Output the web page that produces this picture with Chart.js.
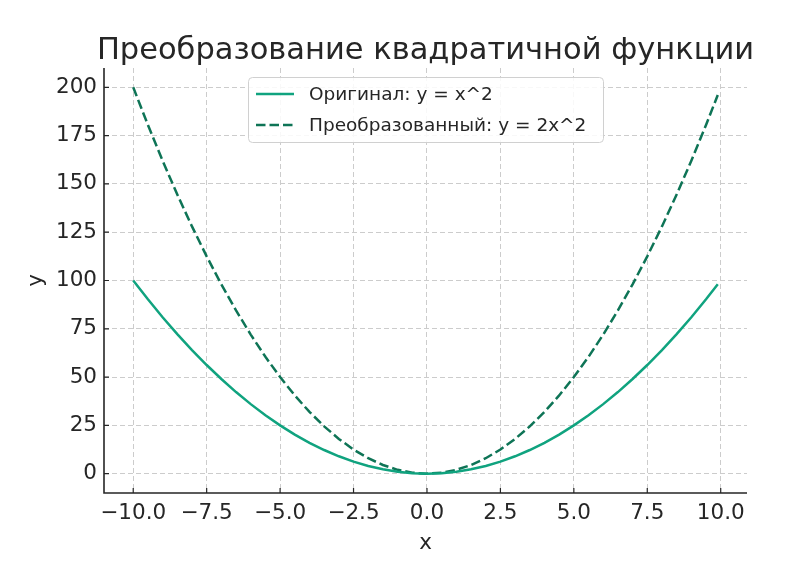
<!DOCTYPE html>
<html><head><meta charset="utf-8">
<script src="https://cdn.jsdelivr.net/npm/chart.js@4"></script>
<style>html,body{margin:0;padding:0;background:#fff}#wrap{width:803px;height:571px}</style>
</head><body><div id="wrap"><canvas id="c" width="803" height="571"></canvas></div>
<script>
const titleText = "Преобразование квадратичной функции";
const xLabel = "x";
const yLabel = "y";
const seriesLabels = ["Оригинал: y = x^2", "Преобразованный: y = 2x^2"];
const xs = [-10,-9.5,-9,-8.5,-8,-7.5,-7,-6.5,-6,-5.5,-5,-4.5,-4,-3.5,-3,-2.5,-2,-1.5,-1,-0.5,0,0.5,1,1.5,2,2.5,3,3.5,4,4.5,5,5.5,6,6.5,7,7.5,8,8.5,9,9.5,9.9];
const yOriginal = [100,90.25,81,72.25,64,56.25,49,42.25,36,30.25,25,20.25,16,12.25,9,6.25,4,2.25,1,0.25,0,0.25,1,2.25,4,6.25,9,12.25,16,20.25,25,30.25,36,42.25,49,56.25,64,72.25,81,90.25,98.01];
const yTransformed = [200,180.5,162,144.5,128,112.5,98,84.5,72,60.5,50,40.5,32,24.5,18,12.5,8,4.5,2,0.5,0,0.5,2,4.5,8,12.5,18,24.5,32,40.5,50,60.5,72,84.5,98,112.5,128,144.5,162,180.5,196.02];
const xTicks = [-10,-7.5,-5,-2.5,0,2.5,5,7.5,10];
const yTicks = [0,25,50,75,100,125,150,175,200];

const FONT = "'DejaVu Sans', sans-serif";
const TXT = "#262626";
const colors = ["#10a37f", "#0e7456"];

const pts = (ys) => xs.map((x, i) => ({x, y: ys[i]}));

const decor = {
  id: 'decor',
  afterDraw(chart) {
    const ctx = chart.ctx, a = chart.chartArea;
    const xs_ = chart.scales.x, ys_ = chart.scales.y;
    ctx.save();
    // spines
    ctx.strokeStyle = TXT; ctx.lineWidth = 1.6; ctx.setLineDash([]);
    ctx.beginPath();
    ctx.moveTo(a.left, a.top); ctx.lineTo(a.left, a.bottom); ctx.lineTo(a.right, a.bottom);
    ctx.stroke();
    // inward ticks
    ctx.lineWidth = 1.2;
    ctx.beginPath();
    xTicks.forEach(v => { const p = xs_.getPixelForValue(v); ctx.moveTo(p, a.bottom); ctx.lineTo(p, a.bottom - 5); });
    yTicks.forEach(v => { const p = ys_.getPixelForValue(v); ctx.moveTo(a.left, p); ctx.lineTo(a.left + 5, p); });
    ctx.stroke();
    // title
    ctx.fillStyle = TXT;
    ctx.font = "30.5px " + FONT;
    ctx.textAlign = 'center'; ctx.textBaseline = 'alphabetic';
    ctx.fillText(titleText, (a.left + a.right) / 2, 59);
    // axis labels
    ctx.font = "21.5px " + FONT;
    ctx.fillText(xLabel, (a.left + a.right) / 2, 549);
    ctx.save();
    ctx.translate(42, (a.top + a.bottom) / 2);
    ctx.rotate(-Math.PI / 2);
    ctx.fillText(yLabel, 0, 0);
    ctx.restore();
    // legend
    const bx = 248, by = 77, bw = 355, bh = 65, r = 4;
    ctx.fillStyle = "rgba(255,255,255,0.85)";
    ctx.strokeStyle = "#d0d0d0"; ctx.lineWidth = 1;
    ctx.beginPath();
    ctx.roundRect(bx + 0.5, by + 0.5, bw, bh, r);
    ctx.fill(); ctx.stroke();
    chart.data.datasets.forEach((ds, i) => {
      const yy = by + 17 + i * 31;
      ctx.strokeStyle = ds.borderColor; ctx.lineWidth = 2.5;
      ctx.setLineDash(ds.borderDash || []);
      ctx.beginPath(); ctx.moveTo(256, yy); ctx.lineTo(294, yy); ctx.stroke();
      ctx.setLineDash([]);
      ctx.fillStyle = TXT; ctx.font = "18.5px " + FONT;
      ctx.textAlign = 'left'; ctx.textBaseline = 'middle';
      ctx.fillText(ds.label, 309, yy + 1);
    });
    ctx.restore();
  }
};

new Chart(document.getElementById('c'), {
  type: 'line',
  data: {
    datasets: [
      { label: seriesLabels[0], data: pts(yOriginal), borderColor: colors[0], borderWidth: 2.5, pointRadius: 0, fill: false, tension: 0 },
      { label: seriesLabels[1], data: pts(yTransformed), borderColor: colors[1], borderWidth: 2.5, borderDash: [9.5, 4], pointRadius: 0, fill: false, tension: 0 }
    ]
  },
  options: {
    responsive: false, animation: false,
    layout: { padding: { left: 0, top: 68, right: 56, bottom: 0 } },
    plugins: { legend: { display: false }, title: { display: false }, tooltip: { enabled: false } },
    scales: {
      x: {
        type: 'linear', min: -10.995, max: 10.895,
        afterBuildTicks: s => { s.ticks = xTicks.map(v => ({value: v})); },
        afterFit: s => { s.height = 78; },
        ticks: { font: { family: FONT, size: 21.5 }, color: TXT, padding: 8, maxRotation: 0,
          callback: v => (v < 0 ? "\u2212" : "") + Math.abs(v).toFixed(1) },
        grid: { color: "#cccccc", lineWidth: 1, drawTicks: false },
        border: { display: false, dash: [5, 3] }
      },
      y: {
        type: 'linear', min: -10, max: 210,
        afterBuildTicks: s => { s.ticks = yTicks.map(v => ({value: v})); },
        afterFit: s => { s.width = 104; },
        ticks: { font: { family: FONT, size: 21.5 }, color: TXT, padding: 7,
          callback: v => String(v) },
        grid: { color: "#cccccc", lineWidth: 1, drawTicks: false },
        border: { display: false, dash: [5, 3] }
      }
    }
  },
  plugins: [decor]
});
</script></body></html>
